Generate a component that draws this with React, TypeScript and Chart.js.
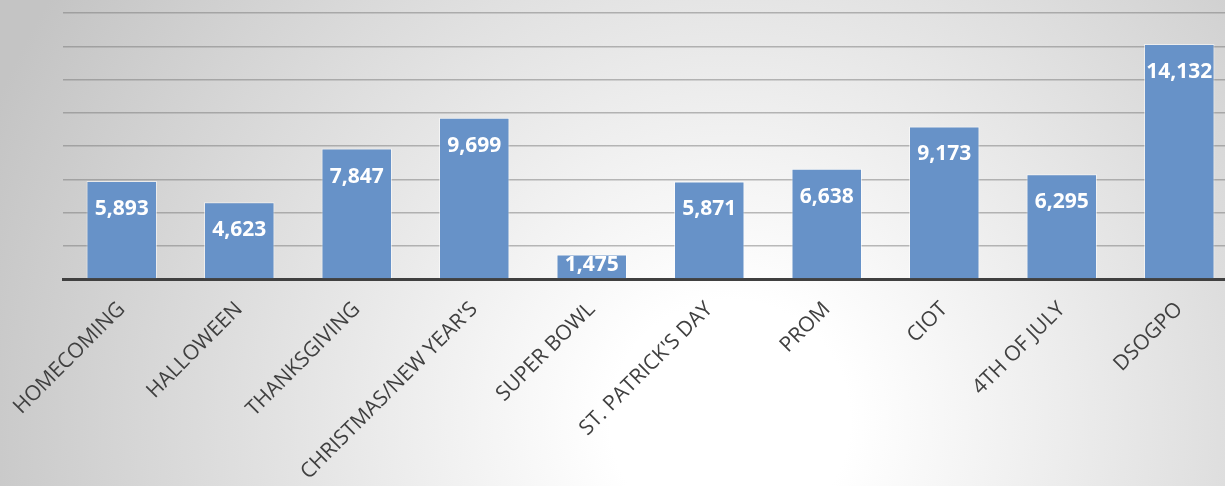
import React, { useEffect, useRef } from "react";
import { Chart, registerables } from "chart.js";

Chart.register(...registerables);

const categories = [
  "HOMECOMING",
  "HALLOWEEN",
  "THANKSGIVING",
  "CHRISTMAS/NEW YEAR'S",
  "SUPER BOWL",
  "ST. PATRICK'S DAY",
  "PROM",
  "CIOT",
  "4TH OF JULY",
  "DSOGPO",
];
const values = [5893, 4623, 7847, 9699, 1475, 5871, 6638, 9173, 6295, 14132];
const yMax = 16000;
const yStep = 2000;

const W = 1240;
const H = 486;

const bgPlugin = {
  id: "bgGradient",
  beforeDraw(chart: any) {
    const ctx = chart.ctx;
    const g = ctx.createRadialGradient(730, 420, 0, 730, 420, 800);
    g.addColorStop(0, "#ffffff");
    g.addColorStop(0.15, "#ffffff");
    g.addColorStop(1, "#c4c4c4");
    ctx.save();
    ctx.fillStyle = g;
    ctx.fillRect(0, 0, chart.width, chart.height);
    ctx.restore();
  },
};

const labelPlugin = {
  id: "barLabels",
  afterDatasetsDraw(chart: any) {
    const ctx = chart.ctx;
    const meta = chart.getDatasetMeta(0);
    ctx.save();
    ctx.fillStyle = "#ffffff";
    ctx.font = "bold 21px 'Open Sans'";
    ctx.textAlign = "center";
    ctx.textBaseline = "middle";
    meta.data.forEach((bar: any, i: number) => {
      const y = Math.min(bar.y + 28, bar.base - 13);
      ctx.fillText(values[i].toLocaleString("en-US"), bar.x, y);
    });
    ctx.restore();
  },
};

export default function App() {
  const ref = useRef<HTMLCanvasElement | null>(null);
  useEffect(() => {
    document.body.style.overflow = "hidden";
    const chart = new Chart(ref.current!, {
      type: "bar",
      data: {
        labels: categories,
        datasets: [
          {
            data: values,
            backgroundColor: "#6792c8",
            borderColor: "rgba(255,255,255,0.55)",
            borderWidth: 1,
            barPercentage: 0.6,
            categoryPercentage: 1,
          },
        ],
      },
      options: {
        animation: false,
        responsive: false,
        devicePixelRatio: 1,
        layout: { padding: { left: 63, right: 2, top: 13, bottom: 0 } },
        plugins: { legend: { display: false }, tooltip: { enabled: false } },
        scales: {
          x: {
            grid: { display: false },
            border: { display: true, color: "#404040", width: 3 },
            ticks: {
              autoSkip: false,
              minRotation: 45,
              maxRotation: 45,
              color: "#404040",
              font: { family: "'Open Sans'", size: 21 },
              padding: 10,
            },
            afterFit: (s: any) => {
              s.height = H - 279;
              s.paddingLeft = 0;
              s.paddingRight = 0;
            },
          },
          y: {
            min: 0,
            max: yMax,
            border: { display: false },
            grid: {
              drawTicks: false,
              color: (c: any) => (c.tick && c.tick.value === 0 ? "rgba(0,0,0,0)" : "rgba(120,120,120,0.5)"),
              lineWidth: 1.5,
            },
            ticks: { display: false, stepSize: yStep },
            afterFit: (s: any) => {
              s.width = 0;
            },
          },
        },
      },
      plugins: [bgPlugin, labelPlugin],
    });
    return () => chart.destroy();
  }, []);
  return (
    <div style={{ position: "fixed", left: 0, top: 0, width: W, height: H }}>
      <canvas ref={ref} width={W} height={H} style={{ width: W, height: H, display: "block" }} />
    </div>
  );
}
